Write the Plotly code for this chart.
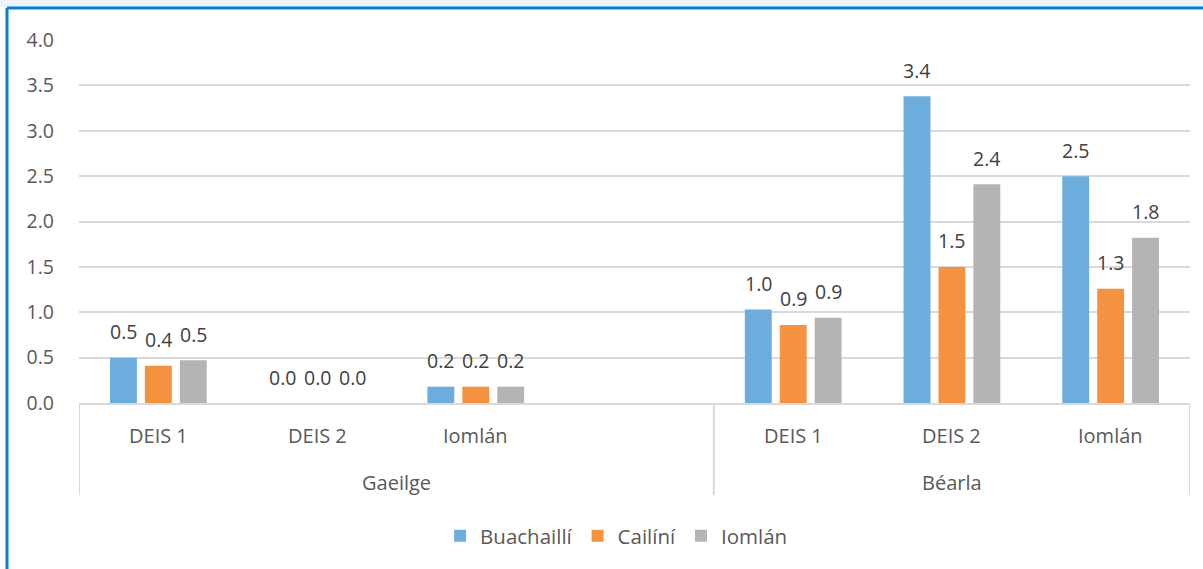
import plotly.graph_objects as go

# ---- data ----
groups = ["Gaeilge", "Béarla"]
subcats = ["DEIS 1", "DEIS 2", "Iomlán", "", "DEIS 1", "DEIS 2", "Iomlán"]
group_of_slot = ["Gaeilge", "Gaeilge", "Gaeilge", "Gaeilge", "Béarla", "Béarla", "Béarla"]
series_names = ["Buachaillí", "Cailíní", "Iomlán"]
buachailli = [0.50, 0.00, 0.18, None, 1.03, 3.38, 2.50]
cailini = [0.41, 0.00, 0.18, None, 0.86, 1.50, 1.26]
iomlan = [0.47, 0.00, 0.18, None, 0.94, 2.41, 1.82]
y_ticks = [0.0, 0.5, 1.0, 1.5, 2.0, 2.5, 3.0, 3.5, 4.0]

colors = ["#6DADDE", "#F4923F", "#B4B4B4"]
FONT = "'Open Sans', Lato, sans-serif"
TXT = "#595959"
LBL = "#404040"
GRID = "#D9D9D9"

slots = list(range(len(subcats)))
fig = go.Figure()
all_series = [buachailli, cailini, iomlan]
for name, vals, col in zip(series_names, all_series, colors):
    fig.add_trace(go.Bar(
        name=name, x=slots, y=vals, marker=dict(color=col, line=dict(width=0)),
    ))

annotations = []
# data labels
bar_pitch_px = 35
for i, vals in enumerate(all_series):
    for s, v in zip(slots, vals):
        if v is None:
            continue
        annotations.append(dict(
            x=s, y=v, xref="x", yref="y", text=f"{v:.1f}", showarrow=False,
            xshift=(i - 1) * bar_pitch_px, yshift=26, yanchor="middle",
            font=dict(family=FONT, size=19.5, color=LBL),
        ))
# category labels
for s, lab in zip(slots, subcats):
    if lab:
        annotations.append(dict(
            x=s, y=0, xref="x", yref="paper", text=lab, showarrow=False,
            yshift=-32, yanchor="middle", font=dict(family=FONT, size=20, color=TXT),
        ))
for g in groups:
    idx = [s for s in slots if group_of_slot[s] == g]
    annotations.append(dict(
        x=(idx[0] + idx[-1]) / 2, y=0, xref="x", yref="paper", text=g, showarrow=False,
        yshift=-79, yanchor="middle", font=dict(family=FONT, size=20, color=TXT),
    ))

shapes = []
# group dividers
bounds = [-0.5]
for k in range(1, len(slots)):
    if group_of_slot[k] != group_of_slot[k - 1]:
        bounds.append(k - 0.5)
bounds.append(len(slots) - 0.5)
for b in bounds:
    shapes.append(dict(type="line", xref="x", yref="paper", x0=b, x1=b, y0=0, y1=-0.253,
                       line=dict(color=GRID, width=2)))
# chart border (blue)
shapes.append(dict(type="rect", xref="paper", yref="paper", x0=-0.2, x1=1.2, y0=1.0 + 33 / 363, y1=1.2,
                   fillcolor="#EEF4FB", line=dict(width=0), layer="below"))
shapes.append(dict(type="line", xref="paper", yref="paper", x0=-72 / 1111, x1=1.2,
                   y0=1.0 + 32 / 363, y1=1.0 + 32 / 363, line=dict(color="#0A7DD0", width=3)))
shapes.append(dict(type="line", xref="paper", yref="paper", x0=-72 / 1111, x1=-72 / 1111,
                   y0=1.0 + 32 / 363, y1=-1.0, line=dict(color="#0A7DD0", width=3)))

fig.update_layout(
    width=1203, height=569,
    margin=dict(l=79, r=13, t=40, b=166),
    paper_bgcolor="white", plot_bgcolor="white",
    barmode="group", bargap=0.34, bargroupgap=0.23,
    font=dict(family=FONT, color=TXT),
    showlegend=True,
    legend=dict(orientation="h", x=0.325, xanchor="left", y=-0.366, yanchor="middle",
                font=dict(family=FONT, size=20.5, color=TXT), traceorder="normal",
                itemwidth=30, bgcolor="rgba(0,0,0,0)"),
    annotations=annotations, shapes=shapes,
)
fig.update_xaxes(range=[-0.5, len(slots) - 0.5], showticklabels=False, showgrid=False,
                 zeroline=False, showline=True, linecolor=GRID, linewidth=2, ticks="")
fig.update_yaxes(range=[0, 4.0], tickvals=y_ticks, ticktext=[f"{t:.1f}" for t in y_ticks],
                 showgrid=True, gridcolor=GRID, gridwidth=2, zeroline=False, showline=False,
                 ticks="", ticklabelstandoff=24, tickfont=dict(family=FONT, size=19.5, color=TXT))

fig.write_html("out.html", config={"displayModeBar": False},
               post_script="document.body.style.margin='0';document.body.style.overflow='hidden';")
